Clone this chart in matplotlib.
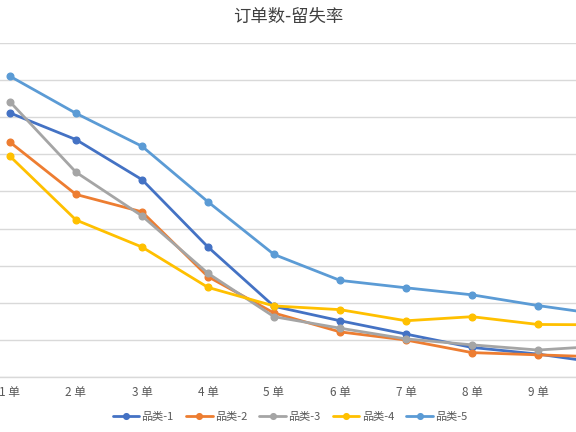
import matplotlib
matplotlib.use("Agg")
import matplotlib.pyplot as plt

plt.rcParams['font.family'] = ['Noto Sans CJK SC', 'DejaVu Sans']

categories = ["1 单", "2 单", "3 单", "4 单", "5 单", "6 单", "7 单", "8 单", "9 单", "10 单"]
series_names = ["品类-1", "品类-2", "品类-3", "品类-4", "品类-5"]
s1 = [0.712, 0.640, 0.532, 0.350, 0.190, 0.151, 0.115, 0.079, 0.061, 0.036]
s2 = [0.633, 0.492, 0.445, 0.270, 0.172, 0.121, 0.099, 0.065, 0.059, 0.053]
s3 = [0.742, 0.552, 0.434, 0.279, 0.162, 0.131, 0.102, 0.086, 0.072, 0.083]
s4 = [0.595, 0.423, 0.350, 0.241, 0.191, 0.181, 0.151, 0.162, 0.141, 0.140]
s5 = [0.811, 0.711, 0.622, 0.472, 0.330, 0.260, 0.240, 0.221, 0.192, 0.167]
colors = ["#4472C4", "#ED7D31", "#A5A5A5", "#FFC000", "#5B9BD5"]
title = "订单数-留失率"

fig = plt.figure(figsize=(5.76, 4.32), dpi=100)
ax = fig.add_axes([0.0, 55.3 / 432, 1.0, 333.4 / 432])

x = list(range(1, len(categories) + 1))
for vals, name, c in zip([s1, s2, s3, s4, s5], series_names, colors):
    ax.plot(x, vals, color=c, lw=2.0, marker='o', markersize=4.8, label=name,
            solid_capstyle='round', solid_joinstyle='round', clip_on=True)

ax.set_xticks(x)
ax.set_xticklabels(categories, fontsize=8.5, color="#595959")
ax.set_yticks([i / 10 for i in range(10)])
ax.set_xlim(1 - 10 / 66, 9 + 38 / 66)
ax.set_ylim(0, 0.9)
ax.yaxis.grid(True, color="#D9D9D9", lw=1.0)
ax.set_axisbelow(True)
ax.tick_params(axis='y', left=False, labelleft=False)
ax.tick_params(axis='x', length=0, pad=7)
for s in ['top', 'left', 'right']:
    ax.spines[s].set_visible(False)
ax.spines['bottom'].set_color("#D9D9D9")
ax.spines['bottom'].set_linewidth(1.0)

fig.text(0.5, 1 - 17 / 432, title, ha='center', va='center', fontsize=12.5, color="#404040")

fig.legend(loc='center', bbox_to_anchor=(290 / 576, 1 - 417 / 432), ncol=5, frameon=False,
           fontsize=8, handlelength=2.4, columnspacing=1.1, handletextpad=0.2,
           markerscale=0.85, labelcolor="#595959")

fig.savefig("out.png", dpi=100)
